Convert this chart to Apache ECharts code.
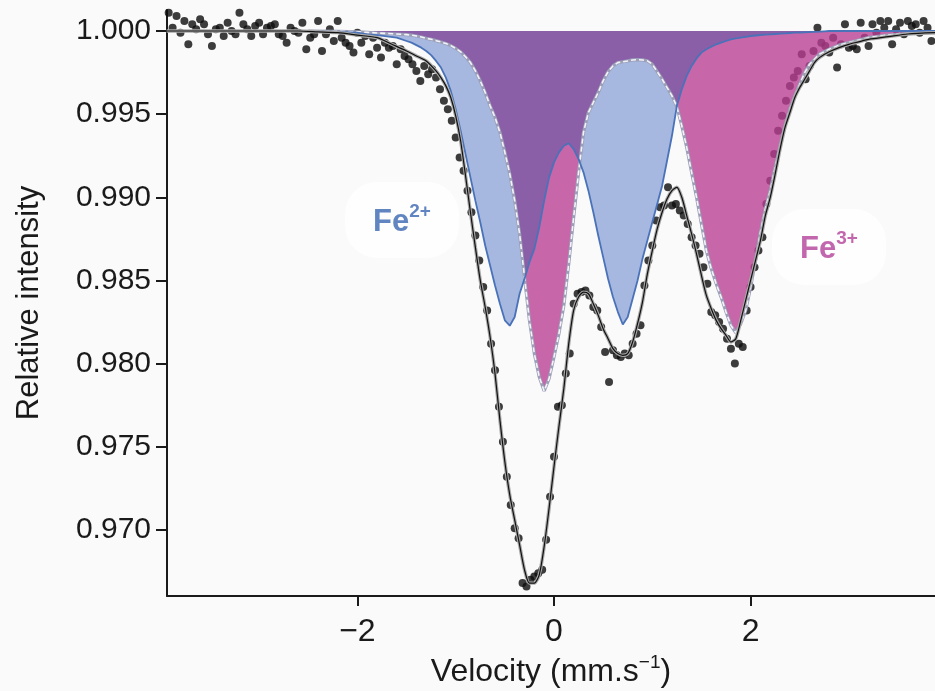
<!DOCTYPE html>
<html><head><meta charset="utf-8">
<script src="https://cdn.jsdelivr.net/npm/echarts@6/dist/echarts.min.js"></script>
<style>html,body{margin:0;padding:0;background:#fafafa}#c{width:935px;height:691px}</style>
</head><body><div id="c"></div>
<script>
// Shared velocity grid for the two fitted components (mm/s)
const componentV = [
-2.5,-2.2,-2.0,-1.9,-1.8,-1.7,-1.6,-1.5,
-1.45,-1.4,-1.35,-1.3,-1.25,-1.2,-1.15,-1.1,-1.05,-1.0,
-0.95,-0.9,-0.85,-0.8,-0.75,-0.7,-0.65,-0.6,-0.55,-0.5,
-0.45,-0.4,-0.35,-0.3,-0.25,-0.2,-0.15,-0.1,-0.05,0,
0.05,0.1,0.15,0.2,0.25,0.3,0.35,0.4,0.45,0.5,
0.55,0.6,0.65,0.7,0.75,0.8,0.85,0.9,0.95,1.0,
1.05,1.1,1.15,1.2,1.25,1.3,1.35,1.4,1.45,1.5,
1.55,1.6,1.65,1.7,1.75,1.8,1.85,1.9,1.95,2.0,
2.05,2.1,2.15,2.2,2.25,2.3,2.35,2.4,2.45,2.5,
2.55,2.6,2.65,2.7,2.75,2.8,
2.9,3.0,3.2,3.4,3.6,3.88];
// Fe2+ doublet (blue)
const fe2Blue = [
1.0,0.99995,0.9999,0.9998,0.99975,0.99968,0.9996,0.9994,
0.9993,0.99915,0.9990,0.9988,0.99855,0.9982,0.9978,0.9972,0.9964,0.9953,
0.9940,0.9926,0.9912,0.9898,0.9885,0.9871,0.9859,0.9847,0.9836,0.9826,
0.98228,0.9828,0.9842,0.9851,0.9861,0.9869,0.9882,0.9898,0.9912,0.9921,
0.9927,0.9931,0.99325,0.9929,0.9923,0.9915,0.9904,0.9891,0.9877,0.9864,
0.9851,0.9840,0.9831,0.98235,0.9828,0.9839,0.9850,0.9863,0.9874,0.9885,
0.9896,0.9907,0.9922,0.9937,0.9955,0.9965,0.9973,0.9979,0.99835,0.9987,
0.9989,0.99905,0.9992,0.9993,0.9994,0.9995,0.99955,0.9996,0.99965,0.9997,
0.99973,0.99976,0.99978,0.9998,0.99982,0.99984,0.99986,0.99988,0.9999,0.99991,
0.99992,0.99994,0.99995,0.99996,0.99998,1.0,
1.0,1.0,1.0,1.0,1.0,1.0];
// Fe3+ doublet (pink)
const fe3Pink = [
1.0,0.99998,0.99995,0.99992,0.99988,0.99985,0.99982,0.99978,
0.99975,0.9997,0.99964,0.99956,0.9995,0.99942,0.99934,0.99925,0.99912,0.99895,
0.99875,0.99845,0.9981,0.9976,0.9970,0.9963,0.9955,0.9948,0.9939,0.9927,
0.9914,0.9898,0.9878,0.9852,0.9826,0.9806,0.9792,0.97835,0.9791,0.9804,
0.9818,0.9835,0.9860,0.9888,0.9915,0.9939,0.9951,0.9957,0.9963,0.9970,
0.99755,0.9979,0.9981,0.99815,0.9982,0.99826,0.99828,0.99826,0.9982,0.9980,
0.99755,0.9971,0.9966,0.9961,0.99545,0.9943,0.9930,0.9915,0.9900,0.9884,
0.9868,0.9857,0.9848,0.9840,0.9831,0.9823,0.98185,0.9824,0.9832,0.9846,
0.9862,0.9879,0.9893,0.9904,0.9918,0.9931,0.9943,0.9953,0.9961,0.9968,
0.9975,0.9980,0.9983,0.9986,0.99875,0.9989,
0.99915,0.9993,0.9996,0.99976,0.99985,0.9999];
// Total fit
const fitV = [-3.94,-3.0,-2.6,-2.4,-2.2,-2.0,-1.8,-1.65,-1.5,-1.4,
-1.3,-1.2,-1.15,-1.1,-1.05,-1.0,-0.95,-0.9,-0.85,-0.8,
-0.75,-0.7,-0.65,-0.6,-0.55,-0.5,-0.45,-0.4,-0.35,-0.3,
-0.25,-0.2,-0.15,-0.1,-0.05,0,0.05,0.1,0.15,0.2,
0.25,0.3,0.35,0.4,0.45,0.5,0.55,0.6,0.65,0.7,
0.75,0.8,0.85,0.9,0.95,1.0,1.05,1.1,1.15,1.2,
1.25,1.3,1.35,1.4,1.45,1.5,1.55,1.6,1.65,1.7,
1.75,1.8,1.85,1.9,1.95,2.0,2.05,2.1,2.15,2.2,
2.25,2.3,2.35,2.4,2.45,2.5,2.55,2.6,2.65,2.7,
2.8,2.9,3.0,3.1,3.2,3.4,3.6,3.88];
const fitI = [1.0,1.0,1.0,0.99995,0.9999,0.99975,0.9996,0.9992,0.9988,0.9985,
0.9982,0.9976,0.9972,0.9967,0.9960,0.9949,0.9934,0.9913,0.9891,0.9870,
0.9850,0.9834,0.9816,0.9794,0.9766,0.9741,0.9721,0.9706,0.9691,0.9676,
0.9668,0.9668,0.9673,0.9690,0.9713,0.9738,0.9762,0.9785,0.9812,0.9832,
0.9840,0.9843,0.9842,0.9836,0.9829,0.9821,0.9815,0.9809,0.9806,0.9805,
0.9806,0.9813,0.9824,0.9837,0.9854,0.9868,0.9881,0.9891,0.9899,0.9904,
0.9906,0.9900,0.9889,0.9878,0.9866,0.9853,0.9841,0.9833,0.9826,0.9821,
0.9817,0.9813,0.9815,0.9826,0.9838,0.9850,0.9862,0.9874,0.9889,0.9900,
0.9914,0.9929,0.9942,0.9951,0.9960,0.9966,0.9971,0.9976,0.9981,0.9984,
0.99875,0.9990,0.9992,0.99935,0.9995,0.99966,0.99982,0.9999];
// Measured spectrum
const dataV = [
-3.92,-3.88,-3.84,-3.80,-3.76,-3.72,-3.68,-3.64,-3.60,-3.56,
-3.52,-3.48,-3.44,-3.40,-3.36,-3.32,-3.28,-3.24,-3.20,-3.16,
-3.12,-3.08,-3.04,-3.00,-2.96,-2.92,-2.88,-2.84,-2.80,-2.76,
-2.72,-2.68,-2.64,-2.60,-2.56,-2.52,-2.48,-2.44,-2.40,-2.36,
-2.32,-2.28,-2.24,-2.20,-2.16,-2.12,-2.08,-2.04,-2.00,-1.96,
-1.92,-1.88,-1.84,-1.80,-1.76,-1.72,-1.68,-1.64,-1.60,-1.56,
-1.52,-1.48,-1.44,-1.40,-1.36,-1.32,-1.28,-1.24,-1.20,-1.16,
-1.12,-1.08,-1.04,-1.00,-0.96,-0.92,-0.88,-0.84,-0.80,-0.76,
-0.72,-0.68,-0.64,-0.60,-0.56,-0.52,-0.48,-0.44,-0.40,-0.36,
-0.32,-0.28,-0.24,-0.20,-0.16,-0.12,-0.08,-0.04,0.00,0.04,
0.08,0.12,0.16,0.20,0.24,0.28,0.32,0.36,0.40,0.44,
0.48,0.52,0.56,0.60,0.64,0.68,0.72,0.76,0.80,0.84,
0.88,0.92,0.96,1.00,1.04,1.08,1.12,1.16,1.20,1.24,
1.28,1.32,1.36,1.40,1.44,1.48,1.52,1.56,1.60,1.64,
1.68,1.72,1.76,1.80,1.84,1.88,1.92,1.96,2.00,2.04,
2.08,2.12,2.16,2.20,2.24,2.28,2.32,2.36,2.40,2.44,
2.48,2.52,2.56,2.60,2.64,2.68,2.72,2.76,2.80,2.84,
2.88,2.92,2.96,3.00,3.04,3.08,3.12,3.16,3.20,3.24,
3.28,3.32,3.36,3.40,3.44,3.48,3.52,3.56,3.60,3.64,
3.68,3.72,3.76,3.80,3.84,3.88];
const dataI = [
1.0011,1.0002,1.0009,0.9999,1.0006,0.9992,1.0004,1.0001,1.0007,1.0004,
0.9998,0.9991,1.0001,1.0002,0.9997,1.0005,1.0000,0.9998,1.0011,1.0004,
1.0001,0.9997,1.0003,1.0005,0.9998,1.0002,1.0003,1.0004,0.9998,0.9997,
0.9993,1.0002,1.0000,0.9999,1.0005,0.9989,0.9996,0.9998,1.0006,0.9988,
0.9998,1.0001,0.9994,1.0006,0.9996,0.9993,0.9991,0.9987,0.9999,0.9993,
0.9997,0.9986,0.9996,0.9990,0.9984,0.9993,0.9990,0.9991,0.9980,0.9989,
0.9985,0.9983,0.9980,0.9976,0.9970,0.9979,0.9974,0.9977,0.9972,0.9965,
0.9958,0.9953,0.9946,0.9936,0.9924,0.9916,0.9904,0.9891,0.9877,0.9862,
0.9846,0.9832,0.9812,0.9796,0.9774,0.9753,0.9732,0.9715,0.9701,0.9695,
0.9668,0.9666,0.9670,0.9672,0.9674,0.9676,0.9694,0.9720,0.9744,0.9774,
0.9775,0.9794,0.9806,0.9836,0.9842,0.9843,0.9844,0.9841,0.9834,0.9832,
0.9822,0.9807,0.9789,0.9808,0.9805,0.9804,0.9806,0.9805,0.9812,0.9818,
0.9823,0.9847,0.9862,0.9871,0.9886,0.9894,0.9895,0.9906,0.9895,0.9896,
0.9892,0.9889,0.9884,0.9876,0.9871,0.9866,0.9858,0.9848,0.9831,0.9829,
0.9825,0.9821,0.9815,0.9809,0.9800,0.9812,0.9810,0.9832,0.9846,0.9858,
0.9868,0.9876,0.9896,0.9910,0.9926,0.9940,0.9949,0.9958,0.9967,0.9972,
0.9976,0.9986,0.9971,0.9979,0.9988,1.0002,0.9993,0.9991,0.9987,0.9996,
0.9978,0.9992,1.0004,0.9990,0.9991,0.9989,1.0005,0.9996,0.9991,1.0004,
0.9999,1.0006,1.0002,1.0006,0.9992,1.0001,1.0005,0.9998,1.0006,1.0003,
1.0004,0.9999,1.0006,1.0002,0.9994,0.9990];
const yTicks = [0.970, 0.975, 0.980, 0.985, 0.990, 0.995, 1.000];
const xTicks = [-2, 0, 2];
const labelText = ['Fe', 'Fe'];
const labelSup = ['2+', '3+'];
const labelV = [-1.546, 2.797];
const labelI = [0.98864, 0.98701];

const pair = (xs, ys) => xs.map((v, i) => [v, ys[i]]);
const overlap = fe2Blue.map((b, i) => Math.max(b, fe3Pink[i]));
const axisColor = '#1a1a1a';
const sans = "'Liberation Sans', Arial, sans-serif";
const BASE = 1.0;

const chart = echarts.init(document.getElementById('c'), null, {renderer: 'canvas'});
chart.setOption({
  backgroundColor: '#fafafa',
  animation: false,
  grid: {left: 167, right: 0, top: 10, bottom: 95, containLabel: false, outerBoundsMode: 'none'},
  xAxis: {
    type: 'value', min: -3.937, max: 3.876,
    axisLine: {show: true, onZero: false, lineStyle: {color: axisColor, width: 2}},
    axisTick: {show: true, length: 10, customValues: xTicks, lineStyle: {color: axisColor, width: 2}},
    axisLabel: {customValues: xTicks, margin: 20, fontSize: 32, fontFamily: sans, color: axisColor,
      formatter: v => v < 0 ? '\u2212' + Math.abs(v) : String(v)},
    splitLine: {show: false},
    name: 'Velocity (mm.s{sup|\u22121})', nameLocation: 'middle', nameGap: 56,
    nameTextStyle: {fontSize: 32, fontFamily: sans, color: axisColor, lineHeight: 38, verticalAlign: 'top',
      rich: {sup: {fontSize: 19, fontFamily: sans, color: axisColor, lineHeight: 20, verticalAlign: 'top'}}}
  },
  yAxis: {
    type: 'value', min: 0.966025, max: 1.001263,
    axisLine: {show: true, onZero: false, lineStyle: {color: axisColor, width: 2}},
    axisTick: {show: true, length: 11, customValues: yTicks, lineStyle: {color: axisColor, width: 2}},
    axisLabel: {customValues: yTicks, margin: 16, fontSize: 30, fontFamily: sans, color: axisColor,
      formatter: v => v.toFixed(3)},
    splitLine: {show: false},
    name: 'Relative intensity', nameLocation: 'middle', nameRotate: 90, nameGap: 122,
    nameTextStyle: {fontSize: 31, fontFamily: sans, color: axisColor}
  },
  series: [
    {type: 'scatter', name: 'data', z: 1, silent: true, symbol: 'circle', symbolSize: 8,
      itemStyle: {color: '#0d0d0d'}, data: pair(dataV, dataI)},
    {type: 'line', name: 'Fe2+ fill', z: 2, silent: true, showSymbol: false, symbol: 'none',
      lineStyle: {width: 0}, areaStyle: {origin: BASE, color: '#a6b8e0', opacity: 1},
      data: pair(componentV, fe2Blue)},
    {type: 'line', name: 'Fe3+ fill', z: 3, silent: true, showSymbol: false, symbol: 'none',
      lineStyle: {width: 0}, areaStyle: {origin: BASE, color: '#b83c92', opacity: 0.78},
      data: pair(componentV, fe3Pink)},
    {type: 'line', name: 'overlap fill', z: 4, silent: true, showSymbol: false, symbol: 'none',
      lineStyle: {width: 0}, areaStyle: {origin: BASE, color: '#8b5ea8', opacity: 1},
      data: pair(componentV, overlap)},
    {type: 'line', name: 'Fe3+ edge', z: 5, silent: true, showSymbol: false, symbol: 'none',
      lineStyle: {width: 3.2, color: '#9c9fb8'}, data: pair(componentV, fe3Pink)},
    {type: 'line', name: 'Fe3+ dash', z: 6, silent: true, showSymbol: false, symbol: 'none',
      lineStyle: {width: 1.6, color: '#f4f4f8', type: [5, 3]}, data: pair(componentV, fe3Pink)},
    {type: 'line', name: 'Fe2+ line', z: 7, silent: true, showSymbol: false, symbol: 'none',
      lineStyle: {width: 1.8, color: '#4a72b8'}, data: pair(componentV, fe2Blue)},
    {type: 'line', name: 'fit shadow', z: 8, silent: true, showSymbol: false, symbol: 'none', smooth: 0.25,
      lineStyle: {width: 3.4, color: '#a8a8a8'}, data: pair(fitV, fitI)},
    {type: 'line', name: 'fit', z: 9, silent: true, showSymbol: false, symbol: 'none', smooth: 0.25,
      lineStyle: {width: 1.2, color: '#111111'}, data: pair(fitV, fitI)},
    {type: 'scatter', name: 'labels', z: 10, silent: true, symbolSize: 1,
      itemStyle: {color: 'rgba(0,0,0,0)'},
      label: {show: true, position: 'inside', backgroundColor: '#ffffff', padding: [20, 28], borderRadius: 32},
      data: labelV.map((v, i) => {
        const col = i === 0 ? '#3a67b2' : '#b3409a';
        return {value: [v, labelI[i]], label: {
          formatter: '{b|' + labelText[i] + '}{s|' + labelSup[i] + '}',
          rich: {
            b: {fontSize: 31, fontWeight: 'bold', fontFamily: sans, color: col, lineHeight: 36, verticalAlign: 'bottom'},
            s: {fontSize: 19, fontWeight: 'bold', fontFamily: sans, color: col, lineHeight: 22, verticalAlign: 'top'}
          }}};
      })}
  ]
});
</script>
</body></html>
